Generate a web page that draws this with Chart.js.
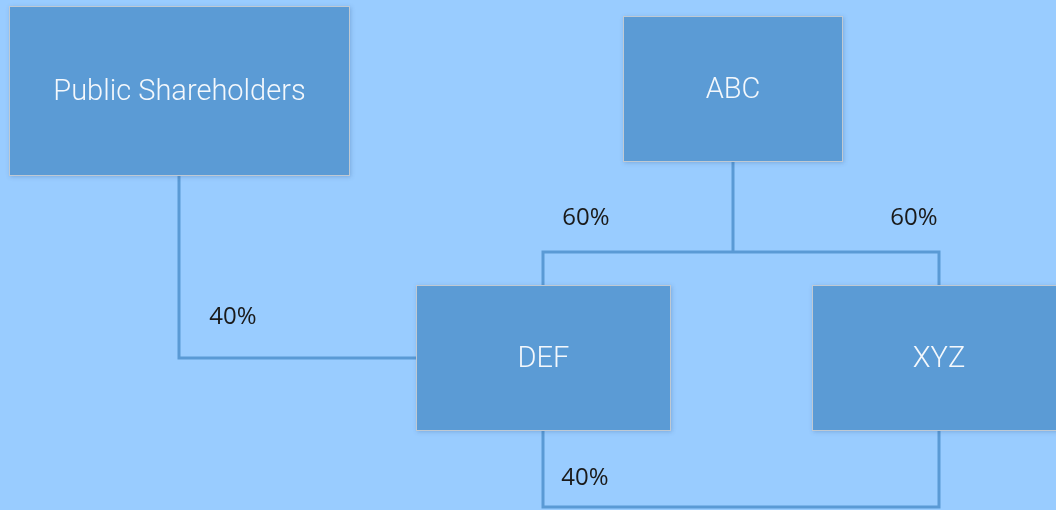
<!DOCTYPE html>
<html>
<head>
<meta charset="utf-8">
<script src="https://cdn.jsdelivr.net/npm/chart.js@4"></script>
<style>
  html, body { margin: 0; padding: 0; background: #99ccff; }
  #wrap { width: 1056px; height: 510px; }
</style>
</head>
<body>
<div id="wrap"><canvas id="orgChart"></canvas></div>
<script>
// entities (box centre, box extents in chart units)
const nodeNames = ['Public Shareholders', 'ABC', 'DEF', 'XYZ']
const nodeLeft = [9, 623, 416, 812]
const nodeRight = [350, 843, 671, 1067]
const nodeTop = [6, 16, 285, 285]
const nodeBottom = [176, 162, 431, 431]

// ownership links, each a polyline
const links = [
  [[179, 176], [179, 358], [416, 358]],
  [[733, 162], [733, 252]],
  [[543, 285], [543, 252], [939, 252], [939, 285]],
  [[543, 431], [543, 507], [939, 507], [939, 431]]
]

// percentage labels
const stakeLabels = ['60%', '60%', '40%', '40%']
const stakeX = [586, 914, 233, 585]
const stakeY = [218, 218, 317, 478]

const lineColor = '#5a9ad5'

const datasets = links.map(l => ({
  type: 'line',
  data: l.map(p => ({ x: p[0], y: p[1] })),
  borderColor: lineColor,
  borderWidth: 3,
  pointRadius: 0,
  tension: 0,
  fill: false,
  borderJoinStyle: 'miter'
}))

const boxPlugin = {
  id: 'boxes',
  beforeDraw (chart) {
    const ctx = chart.ctx
    ctx.save()
    ctx.fillStyle = '#99ccff'
    ctx.fillRect(0, 0, chart.width, chart.height)
    ctx.restore()
  },
  afterDatasetsDraw (chart) {
    const { ctx, scales: { x, y } } = chart
    ctx.save()
    for (let i = 0; i < nodeNames.length; i++) {
      const l = x.getPixelForValue(nodeLeft[i])
      const r = x.getPixelForValue(nodeRight[i])
      const t = y.getPixelForValue(nodeTop[i])
      const b = y.getPixelForValue(nodeBottom[i])
      ctx.shadowColor = 'rgba(40, 80, 130, 0.25)'
      ctx.shadowBlur = 4
      ctx.shadowOffsetX = 1
      ctx.shadowOffsetY = 1
      ctx.fillStyle = '#5b9bd5'
      ctx.fillRect(l, t, r - l, b - t)
      ctx.shadowColor = 'transparent'
      ctx.strokeStyle = '#bfc9d3'
      ctx.lineWidth = 1
      ctx.strokeRect(l + 0.5, t + 0.5, r - l - 1, b - t - 1)
      ctx.fillStyle = '#f4f8fc'
      ctx.font = '300 29px Roboto'
      ctx.textAlign = 'center'
      ctx.textBaseline = 'middle'
      ctx.fillText(nodeNames[i], (l + Math.min(r, 1066)) / 2, (t + b) / 2 + 2)
    }
    ctx.fillStyle = '#1a1a1a'
    ctx.font = '24px "Open Sans"'
    ctx.textAlign = 'center'
    ctx.textBaseline = 'middle'
    for (let i = 0; i < stakeLabels.length; i++) {
      ctx.fillText(stakeLabels[i], x.getPixelForValue(stakeX[i]), y.getPixelForValue(stakeY[i]))
    }
    ctx.restore()
  }
}

new Chart(document.getElementById('orgChart'), {
  type: 'scatter',
  data: { datasets },
  options: {
    responsive: true,
    maintainAspectRatio: false,
    animation: false,
    layout: { padding: 0 },
    plugins: { legend: { display: false }, tooltip: { enabled: false } },
    scales: {
      x: { type: 'linear', min: 0, max: 1056, display: false },
      y: { type: 'linear', min: 0, max: 510, reverse: true, display: false }
    }
  },
  plugins: [boxPlugin]
})
</script>
</body>
</html>
